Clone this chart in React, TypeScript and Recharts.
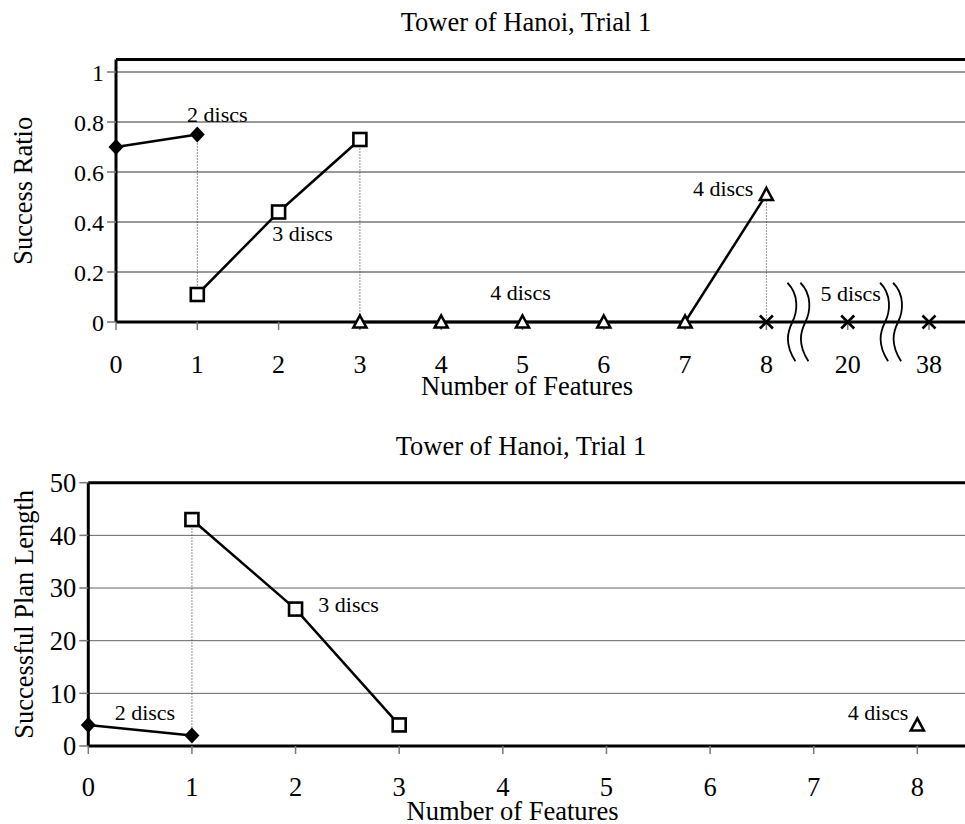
import {
  CartesianGrid,
  Customized,
  Line,
  LineChart,
  ReferenceDot,
  ReferenceLine,
  XAxis,
  YAxis,
} from "recharts";

const FONT = '"Liberation Serif", "Times New Roman", serif';

// Top chart: x is a slot index, slots 9 and 10 sit past axis breaks (20 and 38 features)
const ratioSlots = [0, 1, 2, 3, 4, 5, 6, 7, 8, 9, 10];
const ratioFeatureLabels = ["0", "1", "2", "3", "4", "5", "6", "7", "8", "20", "38"];
const ratioTicks = [0, 0.2, 0.4, 0.6, 0.8, 1];

const twoDiscSlots = [0, 1];
const twoDiscRatio = [0.7, 0.75];
const threeDiscSlots = [1, 2, 3];
const threeDiscRatio = [0.11, 0.44, 0.73];
const fourDiscSlots = [3, 4, 5, 6, 7, 8];
const fourDiscRatio = [0, 0, 0, 0, 0, 0.51];
const fiveDiscSlots = [8, 9, 10];
const fiveDiscRatio = [0, 0, 0];

const axisBreaks = [8.4, 9.54];

// Bottom chart: plan length of the successful runs
const lengthFeatures = [0, 1, 2, 3, 4, 5, 6, 7, 8];
const lengthTicks = [0, 10, 20, 30, 40, 50];

const twoDiscFeatures = [0, 1];
const twoDiscLength = [4, 2];
const threeDiscFeatures = [1, 2, 3];
const threeDiscLength = [43, 26, 4];
const fourDiscFeatures = [8];
const fourDiscLength = [4];

type Pt = { x: number; y: number };
const toPoints = (xs: number[], ys: number[]): Pt[] => xs.map((x, i) => ({ x, y: ys[i] }));

const ratioDrops = [
  { x: 1, from: twoDiscRatio[1], to: threeDiscRatio[0] },
  { x: 3, from: threeDiscRatio[2], to: 0 },
  { x: 8, from: fourDiscRatio[5], to: 0 },
];
const lengthDrops = [{ x: 1, from: threeDiscLength[0], to: twoDiscLength[1] }];

const ratioNotes = [
  { text: "2 discs", x: 1, y: twoDiscRatio[1], dx: 20, dy: -13, anchor: "middle" },
  { text: "3 discs", x: 2, y: threeDiscRatio[1], dx: 24, dy: 29, anchor: "middle" },
  { text: "4 discs", x: 8, y: fourDiscRatio[5], dx: -13, dy: 1, anchor: "end" },
  { text: "4 discs", x: 5, y: 0, dx: -2, dy: -22, anchor: "middle" },
  { text: "5 discs", x: 9, y: 0, dx: 3, dy: -21, anchor: "middle" },
];
const lengthNotes = [
  { text: "3 discs", x: 2, y: threeDiscLength[1], dx: 53, dy: 3, anchor: "middle" },
  { text: "2 discs", x: 1, y: twoDiscLength[1], dx: -47, dy: -15, anchor: "middle" },
  { text: "4 discs", x: 8, y: fourDiscLength[0], dx: -9, dy: -5, anchor: "end" },
];

const Diamond = (p: any) => (
  <path
    key={p.index}
    d={`M${p.cx},${p.cy - 8}L${p.cx + 7.5},${p.cy}L${p.cx},${p.cy + 8}L${p.cx - 7.5},${p.cy}Z`}
    fill="#000"
  />
);
const Square = (p: any) => (
  <rect key={p.index} x={p.cx - 6.5} y={p.cy - 6.5} width={13} height={13} fill="#fff" stroke="#000" strokeWidth={2.6} />
);
const Triangle = (p: any) => (
  <path
    key={p.index}
    d={`M${p.cx},${p.cy - 6.5}L${p.cx + 6.5},${p.cy + 5.5}L${p.cx - 6.5},${p.cy + 5.5}Z`}
    fill="#fff"
    stroke="#000"
    strokeWidth={2.6}
  />
);
const Cross = (p: any) => (
  <path
    key={p.index}
    d={`M${p.cx - 6.5},${p.cy - 6.5}L${p.cx + 6.5},${p.cy + 6.5}M${p.cx + 6.5},${p.cy - 6.5}L${p.cx - 6.5},${p.cy + 6.5}`}
    stroke="#000"
    strokeWidth={2.6}
  />
);

// double wavy line that cuts the x axis
const BreakMark = (p: any) => {
  const top = Math.min(p.y1, p.y2);
  const bottom = Math.max(p.y1, p.y2);
  const mid = (top + bottom) / 2;
  const wave = (cx: number) =>
    `M${cx - 5},${top}C${cx + 7},${top + 12} ${cx + 5},${mid - 10} ${cx},${mid}S${cx - 8},${mid + 22} ${cx + 3},${bottom}`;
  return (
    <g>
      <rect x={p.x1 - 6} y={mid - 3} width={12} height={6} fill="#fff" />
      <path d={wave(p.x1 - 6.5) + wave(p.x1 + 6.5)} fill="none" stroke="#000" strokeWidth={1.8} />
    </g>
  );
};

const note = (text: string, dx: number, dy: number, anchor: string) => (props: any) => {
  const vb = props.viewBox;
  return (
    <text
      x={vb.x + dx}
      y={vb.y + dy}
      textAnchor={anchor}
      style={{ fontFamily: FONT, fontSize: 22 }}
      fill="#000"
    >
      {text}
    </text>
  );
};

const lineProps = {
  type: "linear" as const,
  dataKey: "y",
  stroke: "#000",
  strokeWidth: 2.5,
  activeDot: false,
  isAnimationActive: false,
};

const tickStyle = (size: number) => ({ fill: "#000", fontSize: size, style: { fontFamily: FONT, fontSize: size } });

function Title({ x, y, text }: { x: number; y: number; text: string }) {
  return (
    <text x={x} y={y} textAnchor="middle" style={{ fontFamily: FONT, fontSize: 26.5 }} fill="#000">
      {text}
    </text>
  );
}

function SuccessRatioChart() {
  return (
    <LineChart
      width={965}
      height={400}
      margin={{ top: 59.5, right: 0, bottom: 18, left: 56 }}
      style={{ fontFamily: FONT }}
    >
      <CartesianGrid vertical={false} stroke="#333" strokeWidth={1} />
      <XAxis
        type="number"
        dataKey="x"
        domain={[0, 10.443]}
        ticks={ratioSlots}
        tickFormatter={(i: number) => ratioFeatureLabels[i]}
        height={60}
        tickSize={8}
        tickMargin={25}
        axisLine={{ stroke: "#000", strokeWidth: 3 }}
        tickLine={{ stroke: "#777", strokeWidth: 1.5 }}
        tick={tickStyle(26)}
        label={(props: any) => (
          <text x={527} y={props.viewBox.y + 72.5} textAnchor="middle" style={{ fontFamily: FONT, fontSize: 26.5 }} fill="#000">
            Number of Features
          </text>
        )}
      />
      <YAxis
        type="number"
        domain={[0, 1.05]}
        ticks={ratioTicks}
        width={60}
        tickSize={9}
        tickMargin={3}
        axisLine={{ stroke: "#000", strokeWidth: 3 }}
        tickLine={{ stroke: "#777", strokeWidth: 1.5 }}
        tick={tickStyle(24)}
        label={(props: any) => {
          const cy = props.viewBox.y + props.viewBox.height / 2;
          return (
            <text
              x={31.5}
              y={cy}
              transform={`rotate(-90 31.5 ${cy})`}
              textAnchor="middle"
              style={{ fontFamily: FONT, fontSize: 26.5 }}
              fill="#000"
            >
              Success Ratio
            </text>
          );
        }}
      />
      <ReferenceLine y={1.05} stroke="#000" strokeWidth={3} />
      {ratioDrops.map((d, i) => (
        <ReferenceLine
          key={`drop-${i}`}
          segment={[{ x: d.x, y: d.from }, { x: d.x, y: d.to }]}
          stroke="#222"
          strokeWidth={1}
          strokeDasharray="1 2"
        />
      ))}
      <Line {...lineProps} data={toPoints(fourDiscSlots, fourDiscRatio)} dot={Triangle} />
      <Line {...lineProps} data={toPoints(fiveDiscSlots, fiveDiscRatio)} stroke="none" dot={Cross} />
      <Line {...lineProps} data={toPoints(twoDiscSlots, twoDiscRatio)} dot={Diamond} />
      <Line {...lineProps} data={toPoints(threeDiscSlots, threeDiscRatio)} dot={Square} />
      {axisBreaks.map((b, i) => (
        <ReferenceLine
          key={`break-${i}`}
          segment={[{ x: b, y: 0.157 }, { x: b, y: -0.157 }]}
          ifOverflow="visible"
          shape={BreakMark}
        />
      ))}
      {ratioNotes.map((n, i) => (
        <ReferenceDot
          key={`note-${i}`}
          x={n.x}
          y={n.y}
          r={0}
          fill="none"
          stroke="none"
          label={note(n.text, n.dx, n.dy, n.anchor)}
        />
      ))}
      <Customized component={() => <Title x={526} y={31} text="Tower of Hanoi, Trial 1" />} />
    </LineChart>
  );
}

function PlanLengthChart() {
  return (
    <LineChart
      width={965}
      height={404}
      margin={{ top: 62.7, right: 0, bottom: 18, left: 28.3 }}
      style={{ fontFamily: FONT }}
    >
      <CartesianGrid vertical={false} stroke="#666" strokeWidth={1} />
      <XAxis
        type="number"
        dataKey="x"
        domain={[0, 8.46]}
        ticks={lengthFeatures}
        height={60}
        tickSize={8}
        tickMargin={23}
        axisLine={{ stroke: "#000", strokeWidth: 3 }}
        tickLine={{ stroke: "#777", strokeWidth: 1.5 }}
        tick={tickStyle(26.5)}
        label={(props: any) => (
          <text x={512.5} y={props.viewBox.y + 73.5} textAnchor="middle" style={{ fontFamily: FONT, fontSize: 26.5 }} fill="#000">
            Number of Features
          </text>
        )}
      />
      <YAxis
        type="number"
        domain={[0, 50]}
        ticks={lengthTicks}
        width={60}
        tickSize={9}
        tickMargin={3}
        axisLine={{ stroke: "#000", strokeWidth: 3 }}
        tickLine={{ stroke: "#777", strokeWidth: 1.5 }}
        tick={tickStyle(26.5)}
        label={(props: any) => {
          const cy = props.viewBox.y + props.viewBox.height / 2;
          return (
            <text
              x={33}
              y={cy}
              transform={`rotate(-90 33 ${cy})`}
              textAnchor="middle"
              style={{ fontFamily: FONT, fontSize: 26.5 }}
              fill="#000"
            >
              Successful Plan Length
            </text>
          );
        }}
      />
      <ReferenceLine y={50} stroke="#000" strokeWidth={3} />
      {lengthDrops.map((d, i) => (
        <ReferenceLine
          key={`drop-${i}`}
          segment={[{ x: d.x, y: d.from }, { x: d.x, y: d.to }]}
          stroke="#222"
          strokeWidth={1}
          strokeDasharray="1 2"
        />
      ))}
      <Line {...lineProps} data={toPoints(twoDiscFeatures, twoDiscLength)} dot={Diamond} />
      <Line {...lineProps} data={toPoints(threeDiscFeatures, threeDiscLength)} dot={Square} />
      <Line {...lineProps} data={toPoints(fourDiscFeatures, fourDiscLength)} dot={Triangle} />
      {lengthNotes.map((n, i) => (
        <ReferenceDot
          key={`note-${i}`}
          x={n.x}
          y={n.y}
          r={0}
          fill="none"
          stroke="none"
          label={note(n.text, n.dx, n.dy, n.anchor)}
        />
      ))}
      <Customized component={() => <Title x={521} y={35} text="Tower of Hanoi, Trial 1" />} />
    </LineChart>
  );
}

export default function App() {
  return (
    <div
      style={{
        position: "absolute",
        left: 0,
        top: 0,
        width: 965,
        height: 824,
        background: "#fff",
        fontFamily: FONT,
      }}
    >
      <SuccessRatioChart />
      <div style={{ position: "absolute", left: 0, top: 420 }}>
        <PlanLengthChart />
      </div>
    </div>
  );
}
